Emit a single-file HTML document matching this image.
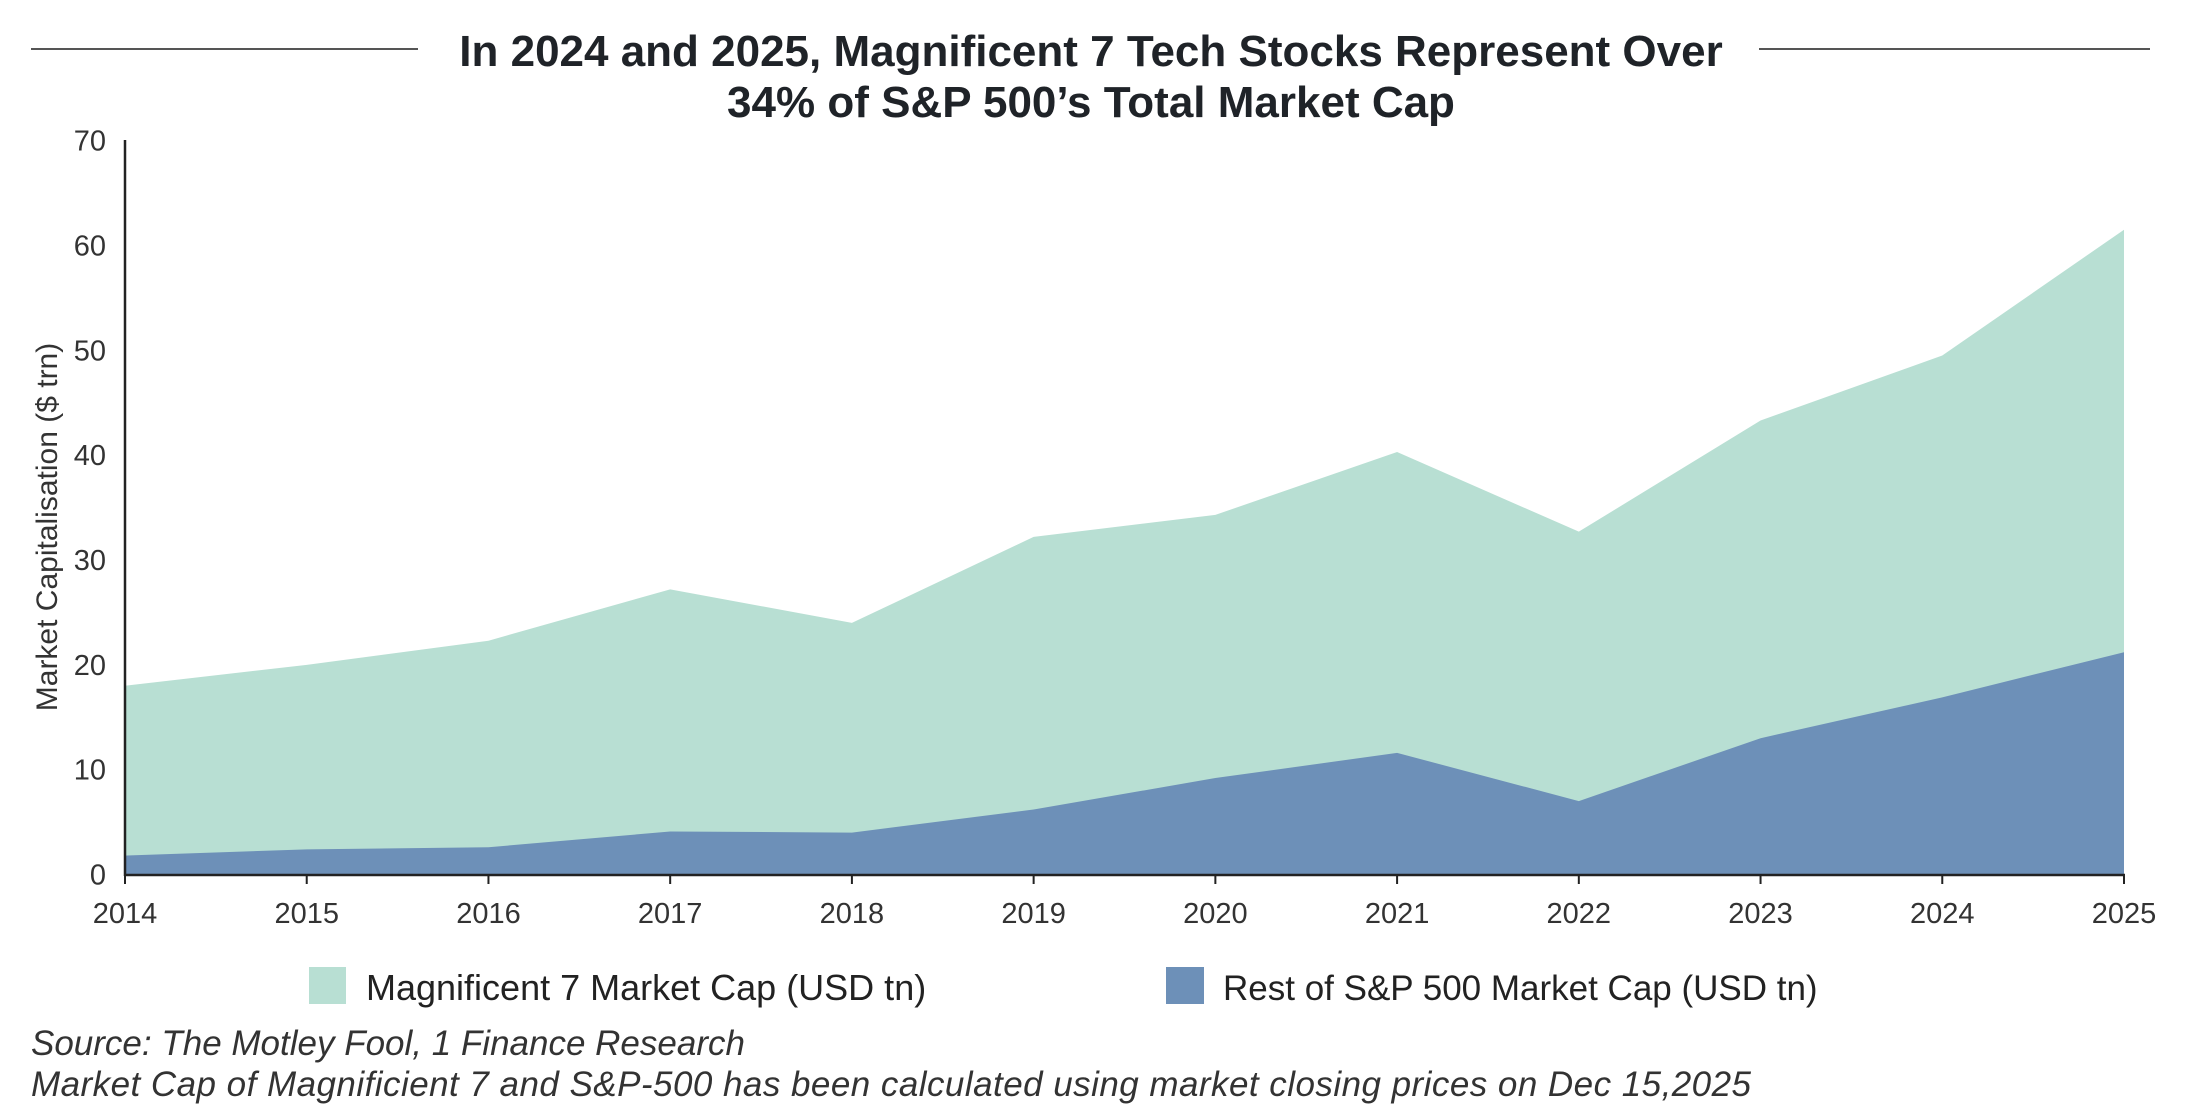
<!DOCTYPE html>
<html><head><meta charset="utf-8"><style>
html,body{margin:0;padding:0;background:#fff;}
svg{display:block;font-family:"Liberation Sans",sans-serif;}
</style></head><body>
<svg id="s" width="2193" height="1113" viewBox="0 0 2193 1113" xmlns="http://www.w3.org/2000/svg">
<line x1="31" y1="49" x2="418" y2="49" stroke="#555" stroke-width="2"/>
<line x1="1759" y1="49" x2="2150" y2="49" stroke="#555" stroke-width="2"/>
<text x="1091" y="66" text-anchor="middle" font-size="44" font-weight="bold" fill="#1f2328">In 2024 and 2025, Magnificent 7 Tech Stocks Represent Over</text>
<text x="1091" y="117" text-anchor="middle" font-size="44" font-weight="bold" fill="#1f2328">34% of S&amp;P 500’s Total Market Cap</text>
<g id="areas"></g>
<line x1="125" y1="140" x2="125" y2="876" stroke="#222" stroke-width="2.5"/>
<line x1="124" y1="875" x2="2125" y2="875" stroke="#222" stroke-width="2.5"/>
<g id="ticks" font-size="29" fill="#333"></g>
<text transform="translate(57,527) rotate(-90)" text-anchor="middle" font-size="30" fill="#333">Market Capitalisation ($ trn)</text>
<rect x="309" y="967" width="37" height="37" fill="#b8dfd3"/>
<text x="366" y="1000" font-size="36" fill="#222">Magnificent 7 Market Cap (USD tn)</text>
<rect x="1166" y="967" width="38" height="37" fill="#6d90b8"/>
<text x="1223" y="1000" font-size="35" fill="#222">Rest of S&amp;P 500 Market Cap (USD tn)</text>
<text x="31" y="1055" font-size="35" font-style="italic" fill="#333">Source: The Motley Fool, 1 Finance Research</text>
<text x="31" y="1096" font-size="35" font-style="italic" fill="#333" textLength="1720">Market Cap of Magnificient 7 and S&amp;P-500 has been calculated using market closing prices on Dec 15,2025</text>
</svg>
<script>
var top_=[18,20,22.3,27.2,24,32.2,34.3,40.3,32.7,43.3,49.5,61.5];
var bot=[1.8,2.4,2.6,4.1,4.0,6.2,9.2,11.6,7.0,13.0,16.9,21.2];
var x0=125,dx=(2124-125)/11,y0=874.5,py=(874.5-140.6)/70;
function X(i){return x0+i*dx}function Y(v){return y0-v*py}
function poly(arr,col){var p=[];for(var i=0;i<12;i++)p.push(X(i)+','+Y(arr[i]));p.push(X(11)+','+y0);p.push(X(0)+','+y0);
return '<polygon points="'+p.join(' ')+'" fill="'+col+'"/>';}
document.getElementById('areas').innerHTML=poly(top_,'#b8dfd3')+poly(bot,'#6d90b8');
var t='';for(var v=0;v<=70;v+=10){t+='<text x="106" y="'+(Y(v)+10)+'" text-anchor="end">'+v+'</text>';}
for(var i=0;i<12;i++){t+='<line x1="'+X(i)+'" y1="875" x2="'+X(i)+'" y2="884" stroke="#222" stroke-width="2"/><text x="'+X(i)+'" y="923" text-anchor="middle">'+(2014+i)+'</text>';}
document.getElementById('ticks').innerHTML=t;
</script>
</body></html>
